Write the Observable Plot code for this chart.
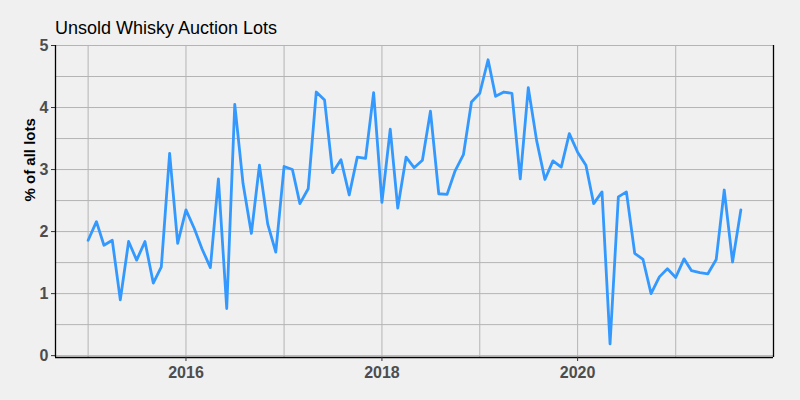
<!DOCTYPE html>
<html>
<head>
<meta charset="utf-8">
<script src="https://cdn.jsdelivr.net/npm/d3@7"></script>
<script src="https://cdn.jsdelivr.net/npm/@observablehq/plot@0.6"></script>
<style>
  html, body { margin: 0; padding: 0; background: #f0f0f0; }
  #wrap { position: relative; width: 800px; height: 400px; background: #f0f0f0; }
  #title { position: absolute; left: 55px; top: 19px; font: 18px "Liberation Sans", Arial, sans-serif; line-height: 18px; color: #000; }
</style>
</head>
<body>
<div id="wrap">
  <div id="title">Unsold Whisky Auction Lots</div>
</div>
<script>
// Monthly series, starting January 2015
const startYear = 2015;
const startMonth = 0; // January
const unsoldPct = [
  1.86, 2.16, 1.78, 1.86, 0.90, 1.84, 1.54, 1.84, 1.17, 1.43, 3.26, 1.81,
  2.35, 2.05, 1.72, 1.42, 2.85, 0.76, 4.05, 2.77, 1.97, 3.07, 2.12, 1.67,
  3.05, 3.00, 2.45, 2.69, 4.25, 4.12, 2.95, 3.16, 2.59, 3.20, 3.18, 4.24,
  2.47, 3.65, 2.38, 3.20, 3.03, 3.15, 3.94, 2.61, 2.60, 2.98, 3.24, 4.09,
  4.23, 4.77, 4.18, 4.25, 4.23, 2.85, 4.32, 3.47, 2.84, 3.14, 3.04, 3.58,
  3.28, 3.07, 2.45, 2.64, 0.19, 2.56, 2.64, 1.65, 1.55, 1.00, 1.27, 1.40,
  1.26, 1.56, 1.37, 1.34, 1.32, 1.55, 2.67, 1.51, 2.35
];
const xTickYears = [2016, 2018, 2020];
const xGridYears = [2015, 2016, 2017, 2018, 2019, 2020, 2021];
const yTicks = [0, 1, 2, 3, 4, 5];
const yGrid = [0, 0.5, 1, 1.5, 2, 2.5, 3, 3.5, 4, 4.5, 5];
const yLabel = "% of all lots";

const data = unsoldPct.map((v, i) => ({
  date: new Date(Date.UTC(startYear, startMonth + i, 1)),
  value: v
}));

const d0 = data[0].date, d1 = data[data.length - 1].date;
const pad = (d1 - d0) * 0.05;
const xDomain = [new Date(+d0 - pad), new Date(+d1 + pad)];
const yDomain = [-0.03, 5];

const yr = y => new Date(Date.UTC(y, 0, 1));
const gridColor = "#b4b4b4";
const tickText = { fontSize: 16, fontWeight: "bold", fill: "#4d4d4d" };

const chart = Plot.plot({
  width: 800,
  height: 400,
  marginTop: 45,
  marginRight: 27,
  marginBottom: 43,
  marginLeft: 55,
  style: { background: "#f0f0f0", fontFamily: "'Liberation Sans', Arial, sans-serif" },
  x: { type: "utc", domain: xDomain },
  y: { domain: yDomain },
  marks: [
    Plot.ruleY(yGrid, { stroke: gridColor, strokeWidth: 1 }),
    Plot.ruleX(xGridYears.map(yr), { stroke: gridColor, strokeWidth: 1 }),
    Plot.ruleY([yDomain[0]], { stroke: "#000", strokeWidth: 1.3 }),
    Plot.ruleX([xDomain[0], xDomain[1]], { stroke: "#000", strokeWidth: 1.3 }),
    Plot.axisY({ ticks: yTicks, tickFormat: d => String(d), tickSize: 4, tickPadding: 3, stroke: "#333", label: null, ...tickText }),
    Plot.axisX({ ticks: xTickYears.map(yr), tickFormat: d => d3.utcFormat("%Y")(d), tickSize: 4, tickPadding: 5, stroke: "#333", label: null, ...tickText }),
    Plot.text([yLabel], { frameAnchor: "left", rotate: -90, dx: -25, fontSize: 15, fontWeight: "bold", fill: "#000" }),
    Plot.line(data, { x: "date", y: "value", stroke: "#3399FF", strokeWidth: 2.8 })
  ]
});
document.getElementById("wrap").prepend(chart);
</script>
</body>
</html>
